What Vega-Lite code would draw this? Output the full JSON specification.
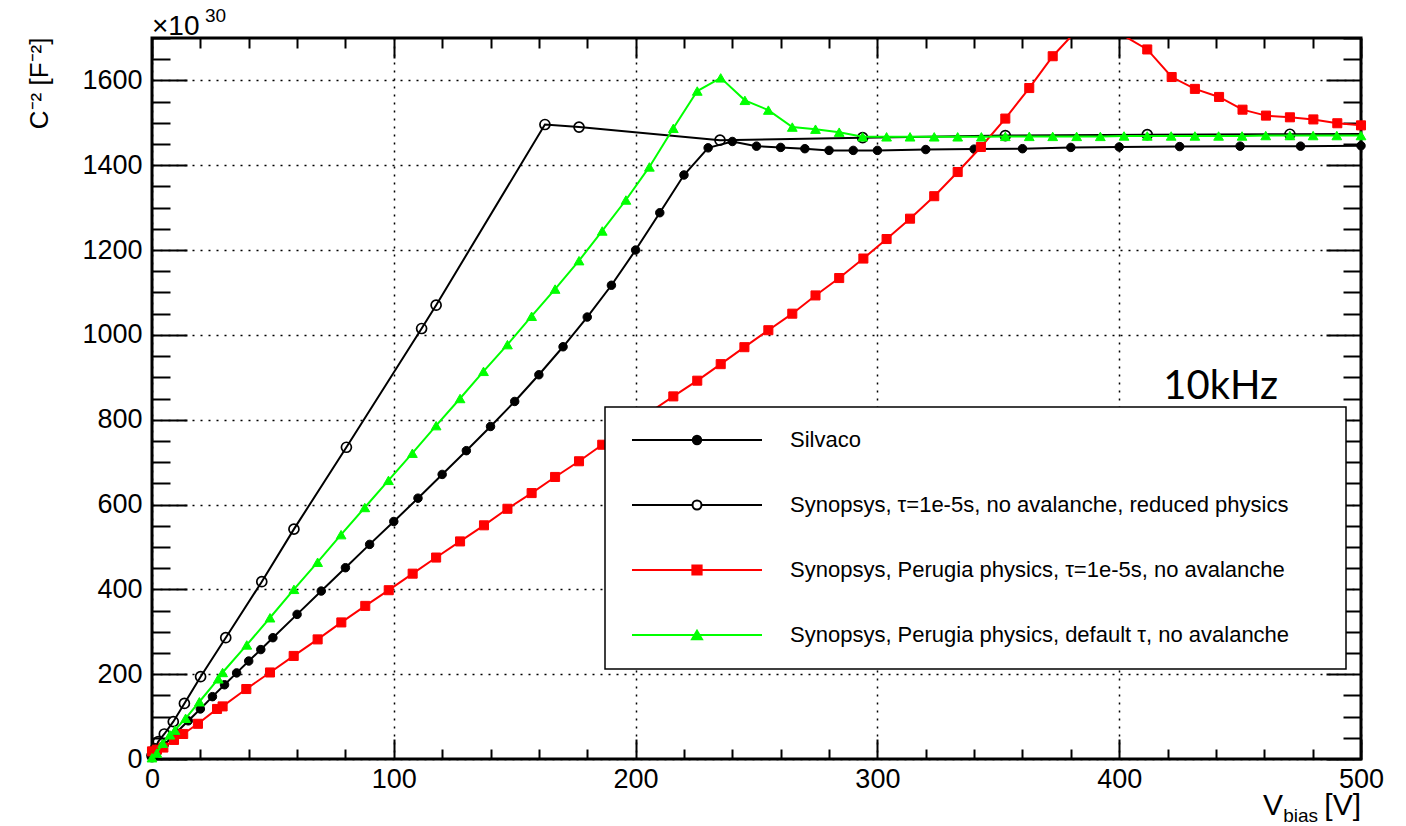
{
  "$schema": "https://vega.github.io/schema/vega-lite/v6.json",
  "width": 1209,
  "height": 721,
  "autosize": {"type": "none"},
  "padding": {"left": 152, "top": 38, "right": 45, "bottom": 67},
  "background": "white",
  "config": {
    "font": "Liberation Sans",
    "view": {"stroke": "black", "strokeWidth": 3},
    "legend": {"strokeWidth": 1.5}
  },
  "datasets": {
    "curves": [
      {"series": "Silvaco", "V": 0, "C": 3},
      {"series": "Silvaco", "V": 1, "C": 9},
      {"series": "Silvaco", "V": 2, "C": 15},
      {"series": "Silvaco", "V": 5, "C": 33},
      {"series": "Silvaco", "V": 10, "C": 62},
      {"series": "Silvaco", "V": 15, "C": 90},
      {"series": "Silvaco", "V": 20, "C": 118},
      {"series": "Silvaco", "V": 25, "C": 147},
      {"series": "Silvaco", "V": 30, "C": 175},
      {"series": "Silvaco", "V": 35, "C": 203},
      {"series": "Silvaco", "V": 40, "C": 231},
      {"series": "Silvaco", "V": 45, "C": 258},
      {"series": "Silvaco", "V": 50, "C": 286},
      {"series": "Silvaco", "V": 60, "C": 341},
      {"series": "Silvaco", "V": 70, "C": 396},
      {"series": "Silvaco", "V": 80, "C": 451},
      {"series": "Silvaco", "V": 90, "C": 506},
      {"series": "Silvaco", "V": 100, "C": 560},
      {"series": "Silvaco", "V": 110, "C": 615},
      {"series": "Silvaco", "V": 120, "C": 671},
      {"series": "Silvaco", "V": 130, "C": 727},
      {"series": "Silvaco", "V": 140, "C": 784},
      {"series": "Silvaco", "V": 150, "C": 843},
      {"series": "Silvaco", "V": 160, "C": 906},
      {"series": "Silvaco", "V": 170, "C": 972},
      {"series": "Silvaco", "V": 180, "C": 1042},
      {"series": "Silvaco", "V": 190, "C": 1117},
      {"series": "Silvaco", "V": 200, "C": 1200},
      {"series": "Silvaco", "V": 210, "C": 1288},
      {"series": "Silvaco", "V": 220, "C": 1377},
      {"series": "Silvaco", "V": 230, "C": 1441},
      {"series": "Silvaco", "V": 240, "C": 1456},
      {"series": "Silvaco", "V": 250, "C": 1445},
      {"series": "Silvaco", "V": 260, "C": 1442},
      {"series": "Silvaco", "V": 270, "C": 1439},
      {"series": "Silvaco", "V": 280, "C": 1435},
      {"series": "Silvaco", "V": 290, "C": 1435},
      {"series": "Silvaco", "V": 300, "C": 1435},
      {"series": "Silvaco", "V": 320, "C": 1437},
      {"series": "Silvaco", "V": 340, "C": 1438},
      {"series": "Silvaco", "V": 360, "C": 1439},
      {"series": "Silvaco", "V": 380, "C": 1442},
      {"series": "Silvaco", "V": 400, "C": 1443},
      {"series": "Silvaco", "V": 425, "C": 1444},
      {"series": "Silvaco", "V": 450, "C": 1445},
      {"series": "Silvaco", "V": 475, "C": 1445},
      {"series": "Silvaco", "V": 500, "C": 1446},

      {"series": "Synopsys, τ=1e-5s, no avalanche, reduced physics", "V": 0, "C": 8},
      {"series": "Synopsys, τ=1e-5s, no avalanche, reduced physics", "V": 1.3, "C": 24},
      {"series": "Synopsys, τ=1e-5s, no avalanche, reduced physics", "V": 2.6, "C": 41},
      {"series": "Synopsys, τ=1e-5s, no avalanche, reduced physics", "V": 5.1, "C": 59},
      {"series": "Synopsys, τ=1e-5s, no avalanche, reduced physics", "V": 8.8, "C": 88},
      {"series": "Synopsys, τ=1e-5s, no avalanche, reduced physics", "V": 13.4, "C": 131},
      {"series": "Synopsys, τ=1e-5s, no avalanche, reduced physics", "V": 20.1, "C": 194},
      {"series": "Synopsys, τ=1e-5s, no avalanche, reduced physics", "V": 30.5, "C": 286},
      {"series": "Synopsys, τ=1e-5s, no avalanche, reduced physics", "V": 45.4, "C": 418},
      {"series": "Synopsys, τ=1e-5s, no avalanche, reduced physics", "V": 58.7, "C": 542},
      {"series": "Synopsys, τ=1e-5s, no avalanche, reduced physics", "V": 80.4, "C": 735},
      {"series": "Synopsys, τ=1e-5s, no avalanche, reduced physics", "V": 111.5, "C": 1015},
      {"series": "Synopsys, τ=1e-5s, no avalanche, reduced physics", "V": 117.5, "C": 1070},
      {"series": "Synopsys, τ=1e-5s, no avalanche, reduced physics", "V": 162.5, "C": 1496},
      {"series": "Synopsys, τ=1e-5s, no avalanche, reduced physics", "V": 176.6, "C": 1490},
      {"series": "Synopsys, τ=1e-5s, no avalanche, reduced physics", "V": 234.9, "C": 1459},
      {"series": "Synopsys, τ=1e-5s, no avalanche, reduced physics", "V": 293.9, "C": 1465},
      {"series": "Synopsys, τ=1e-5s, no avalanche, reduced physics", "V": 352.9, "C": 1470},
      {"series": "Synopsys, τ=1e-5s, no avalanche, reduced physics", "V": 411.6, "C": 1472},
      {"series": "Synopsys, τ=1e-5s, no avalanche, reduced physics", "V": 470.6, "C": 1473},
      {"series": "Synopsys, τ=1e-5s, no avalanche, reduced physics", "V": 529.4, "C": 1474},

      {"series": "Synopsys, Perugia physics, τ=1e-5s, no avalanche", "V": 0, "C": 18},
      {"series": "Synopsys, Perugia physics, τ=1e-5s, no avalanche", "V": 2, "C": 22},
      {"series": "Synopsys, Perugia physics, τ=1e-5s, no avalanche", "V": 4.7, "C": 27},
      {"series": "Synopsys, Perugia physics, τ=1e-5s, no avalanche", "V": 9.1, "C": 45},
      {"series": "Synopsys, Perugia physics, τ=1e-5s, no avalanche", "V": 12.9, "C": 59},
      {"series": "Synopsys, Perugia physics, τ=1e-5s, no avalanche", "V": 19, "C": 83},
      {"series": "Synopsys, Perugia physics, τ=1e-5s, no avalanche", "V": 26.9, "C": 118},
      {"series": "Synopsys, Perugia physics, τ=1e-5s, no avalanche", "V": 29.2, "C": 124},
      {"series": "Synopsys, Perugia physics, τ=1e-5s, no avalanche", "V": 39, "C": 165},
      {"series": "Synopsys, Perugia physics, τ=1e-5s, no avalanche", "V": 48.8, "C": 204},
      {"series": "Synopsys, Perugia physics, τ=1e-5s, no avalanche", "V": 58.6, "C": 243},
      {"series": "Synopsys, Perugia physics, τ=1e-5s, no avalanche", "V": 68.5, "C": 282},
      {"series": "Synopsys, Perugia physics, τ=1e-5s, no avalanche", "V": 78.3, "C": 322},
      {"series": "Synopsys, Perugia physics, τ=1e-5s, no avalanche", "V": 88.2, "C": 361},
      {"series": "Synopsys, Perugia physics, τ=1e-5s, no avalanche", "V": 97.9, "C": 398},
      {"series": "Synopsys, Perugia physics, τ=1e-5s, no avalanche", "V": 107.8, "C": 437},
      {"series": "Synopsys, Perugia physics, τ=1e-5s, no avalanche", "V": 117.5, "C": 475},
      {"series": "Synopsys, Perugia physics, τ=1e-5s, no avalanche", "V": 127.4, "C": 513},
      {"series": "Synopsys, Perugia physics, τ=1e-5s, no avalanche", "V": 137.3, "C": 551},
      {"series": "Synopsys, Perugia physics, τ=1e-5s, no avalanche", "V": 147, "C": 590},
      {"series": "Synopsys, Perugia physics, τ=1e-5s, no avalanche", "V": 157, "C": 627},
      {"series": "Synopsys, Perugia physics, τ=1e-5s, no avalanche", "V": 166.7, "C": 665},
      {"series": "Synopsys, Perugia physics, τ=1e-5s, no avalanche", "V": 176.6, "C": 702},
      {"series": "Synopsys, Perugia physics, τ=1e-5s, no avalanche", "V": 186.2, "C": 741},
      {"series": "Synopsys, Perugia physics, τ=1e-5s, no avalanche", "V": 196, "C": 779},
      {"series": "Synopsys, Perugia physics, τ=1e-5s, no avalanche", "V": 205.7, "C": 817},
      {"series": "Synopsys, Perugia physics, τ=1e-5s, no avalanche", "V": 215.6, "C": 855},
      {"series": "Synopsys, Perugia physics, τ=1e-5s, no avalanche", "V": 225.5, "C": 892},
      {"series": "Synopsys, Perugia physics, τ=1e-5s, no avalanche", "V": 235.2, "C": 931},
      {"series": "Synopsys, Perugia physics, τ=1e-5s, no avalanche", "V": 245, "C": 971},
      {"series": "Synopsys, Perugia physics, τ=1e-5s, no avalanche", "V": 254.9, "C": 1011},
      {"series": "Synopsys, Perugia physics, τ=1e-5s, no avalanche", "V": 264.8, "C": 1050},
      {"series": "Synopsys, Perugia physics, τ=1e-5s, no avalanche", "V": 274.4, "C": 1093},
      {"series": "Synopsys, Perugia physics, τ=1e-5s, no avalanche", "V": 284.2, "C": 1134},
      {"series": "Synopsys, Perugia physics, τ=1e-5s, no avalanche", "V": 294.2, "C": 1180},
      {"series": "Synopsys, Perugia physics, τ=1e-5s, no avalanche", "V": 303.8, "C": 1226},
      {"series": "Synopsys, Perugia physics, τ=1e-5s, no avalanche", "V": 313.5, "C": 1274},
      {"series": "Synopsys, Perugia physics, τ=1e-5s, no avalanche", "V": 323.5, "C": 1327},
      {"series": "Synopsys, Perugia physics, τ=1e-5s, no avalanche", "V": 333.2, "C": 1384},
      {"series": "Synopsys, Perugia physics, τ=1e-5s, no avalanche", "V": 342.8, "C": 1443},
      {"series": "Synopsys, Perugia physics, τ=1e-5s, no avalanche", "V": 352.9, "C": 1510},
      {"series": "Synopsys, Perugia physics, τ=1e-5s, no avalanche", "V": 362.8, "C": 1582},
      {"series": "Synopsys, Perugia physics, τ=1e-5s, no avalanche", "V": 372.5, "C": 1657},
      {"series": "Synopsys, Perugia physics, τ=1e-5s, no avalanche", "V": 382.4, "C": 1718},
      {"series": "Synopsys, Perugia physics, τ=1e-5s, no avalanche", "V": 392.2, "C": 1730},
      {"series": "Synopsys, Perugia physics, τ=1e-5s, no avalanche", "V": 402, "C": 1705},
      {"series": "Synopsys, Perugia physics, τ=1e-5s, no avalanche", "V": 411.6, "C": 1673},
      {"series": "Synopsys, Perugia physics, τ=1e-5s, no avalanche", "V": 421.7, "C": 1608},
      {"series": "Synopsys, Perugia physics, τ=1e-5s, no avalanche", "V": 431.3, "C": 1580},
      {"series": "Synopsys, Perugia physics, τ=1e-5s, no avalanche", "V": 441.3, "C": 1561},
      {"series": "Synopsys, Perugia physics, τ=1e-5s, no avalanche", "V": 451, "C": 1531},
      {"series": "Synopsys, Perugia physics, τ=1e-5s, no avalanche", "V": 460.7, "C": 1517},
      {"series": "Synopsys, Perugia physics, τ=1e-5s, no avalanche", "V": 470.6, "C": 1513},
      {"series": "Synopsys, Perugia physics, τ=1e-5s, no avalanche", "V": 480.3, "C": 1508},
      {"series": "Synopsys, Perugia physics, τ=1e-5s, no avalanche", "V": 490.2, "C": 1499},
      {"series": "Synopsys, Perugia physics, τ=1e-5s, no avalanche", "V": 500, "C": 1494},

      {"series": "Synopsys, Perugia physics, default τ, no avalanche", "V": 0, "C": 3},
      {"series": "Synopsys, Perugia physics, default τ, no avalanche", "V": 2, "C": 14},
      {"series": "Synopsys, Perugia physics, default τ, no avalanche", "V": 4.4, "C": 37},
      {"series": "Synopsys, Perugia physics, default τ, no avalanche", "V": 7.4, "C": 57},
      {"series": "Synopsys, Perugia physics, default τ, no avalanche", "V": 9.5, "C": 68},
      {"series": "Synopsys, Perugia physics, default τ, no avalanche", "V": 13.9, "C": 96},
      {"series": "Synopsys, Perugia physics, default τ, no avalanche", "V": 19.6, "C": 135},
      {"series": "Synopsys, Perugia physics, default τ, no avalanche", "V": 27.4, "C": 189},
      {"series": "Synopsys, Perugia physics, default τ, no avalanche", "V": 29.2, "C": 204},
      {"series": "Synopsys, Perugia physics, default τ, no avalanche", "V": 39.2, "C": 269},
      {"series": "Synopsys, Perugia physics, default τ, no avalanche", "V": 48.8, "C": 333},
      {"series": "Synopsys, Perugia physics, default τ, no avalanche", "V": 58.7, "C": 400},
      {"series": "Synopsys, Perugia physics, default τ, no avalanche", "V": 68.5, "C": 464},
      {"series": "Synopsys, Perugia physics, default τ, no avalanche", "V": 78.2, "C": 529},
      {"series": "Synopsys, Perugia physics, default τ, no avalanche", "V": 88, "C": 593},
      {"series": "Synopsys, Perugia physics, default τ, no avalanche", "V": 97.8, "C": 657},
      {"series": "Synopsys, Perugia physics, default τ, no avalanche", "V": 107.7, "C": 721},
      {"series": "Synopsys, Perugia physics, default τ, no avalanche", "V": 117.5, "C": 786},
      {"series": "Synopsys, Perugia physics, default τ, no avalanche", "V": 127.4, "C": 850},
      {"series": "Synopsys, Perugia physics, default τ, no avalanche", "V": 137.1, "C": 914},
      {"series": "Synopsys, Perugia physics, default τ, no avalanche", "V": 147, "C": 977},
      {"series": "Synopsys, Perugia physics, default τ, no avalanche", "V": 157, "C": 1044},
      {"series": "Synopsys, Perugia physics, default τ, no avalanche", "V": 166.7, "C": 1108},
      {"series": "Synopsys, Perugia physics, default τ, no avalanche", "V": 176.6, "C": 1175},
      {"series": "Synopsys, Perugia physics, default τ, no avalanche", "V": 186.2, "C": 1245},
      {"series": "Synopsys, Perugia physics, default τ, no avalanche", "V": 196, "C": 1318},
      {"series": "Synopsys, Perugia physics, default τ, no avalanche", "V": 205.7, "C": 1396},
      {"series": "Synopsys, Perugia physics, default τ, no avalanche", "V": 215.6, "C": 1487},
      {"series": "Synopsys, Perugia physics, default τ, no avalanche", "V": 225.5, "C": 1575},
      {"series": "Synopsys, Perugia physics, default τ, no avalanche", "V": 235.2, "C": 1606},
      {"series": "Synopsys, Perugia physics, default τ, no avalanche", "V": 245.2, "C": 1553},
      {"series": "Synopsys, Perugia physics, default τ, no avalanche", "V": 254.9, "C": 1530},
      {"series": "Synopsys, Perugia physics, default τ, no avalanche", "V": 264.8, "C": 1490},
      {"series": "Synopsys, Perugia physics, default τ, no avalanche", "V": 274.4, "C": 1485},
      {"series": "Synopsys, Perugia physics, default τ, no avalanche", "V": 284.2, "C": 1478},
      {"series": "Synopsys, Perugia physics, default τ, no avalanche", "V": 293.9, "C": 1467},
      {"series": "Synopsys, Perugia physics, default τ, no avalanche", "V": 303.8, "C": 1467},
      {"series": "Synopsys, Perugia physics, default τ, no avalanche", "V": 313.5, "C": 1467},
      {"series": "Synopsys, Perugia physics, default τ, no avalanche", "V": 323.5, "C": 1467},
      {"series": "Synopsys, Perugia physics, default τ, no avalanche", "V": 333.2, "C": 1467},
      {"series": "Synopsys, Perugia physics, default τ, no avalanche", "V": 343, "C": 1467},
      {"series": "Synopsys, Perugia physics, default τ, no avalanche", "V": 352.9, "C": 1468},
      {"series": "Synopsys, Perugia physics, default τ, no avalanche", "V": 362.8, "C": 1468},
      {"series": "Synopsys, Perugia physics, default τ, no avalanche", "V": 372.5, "C": 1468},
      {"series": "Synopsys, Perugia physics, default τ, no avalanche", "V": 382.4, "C": 1468},
      {"series": "Synopsys, Perugia physics, default τ, no avalanche", "V": 392.2, "C": 1468},
      {"series": "Synopsys, Perugia physics, default τ, no avalanche", "V": 402, "C": 1469},
      {"series": "Synopsys, Perugia physics, default τ, no avalanche", "V": 411.6, "C": 1469},
      {"series": "Synopsys, Perugia physics, default τ, no avalanche", "V": 421.5, "C": 1469},
      {"series": "Synopsys, Perugia physics, default τ, no avalanche", "V": 431.3, "C": 1469},
      {"series": "Synopsys, Perugia physics, default τ, no avalanche", "V": 441.1, "C": 1469},
      {"series": "Synopsys, Perugia physics, default τ, no avalanche", "V": 450.8, "C": 1469},
      {"series": "Synopsys, Perugia physics, default τ, no avalanche", "V": 460.6, "C": 1470},
      {"series": "Synopsys, Perugia physics, default τ, no avalanche", "V": 470.6, "C": 1470},
      {"series": "Synopsys, Perugia physics, default τ, no avalanche", "V": 480.2, "C": 1470},
      {"series": "Synopsys, Perugia physics, default τ, no avalanche", "V": 490, "C": 1470},
      {"series": "Synopsys, Perugia physics, default τ, no avalanche", "V": 500, "C": 1470}
    ]
  },
  "data": {"name": "curves"},
  "resolve": {"axis": {"x": "independent", "y": "independent"}},
  "layer": [
    {
      "transform": [{"filter": "datum.series === 'Silvaco'"}],
      "mark": {"type": "line", "strokeWidth": 2, "clip": true, "color": "black"},
      "encoding": {
        "x": {"field": "V", "type": "quantitative", "scale": {"domain": [0, 500], "nice": false, "zero": false},
          "axis": {"orient": "bottom", "values": [0, 100, 200, 300, 400, 500], "ticks": false, "tickSize": 0, "domain": false,
            "labelFontSize": 27, "labelPadding": 7, "labelColor": "black", "labelFlush": false, "labelOverlap": false, "format": "d",
            "grid": true, "gridColor": "black", "gridDash": [2, 6], "gridWidth": 1.5, "gridOpacity": 1, "title": null}},
        "y": {"field": "C", "type": "quantitative", "scale": {"domain": [0, 1700], "nice": false, "zero": false},
          "axis": {"orient": "left", "values": [0, 200, 400, 600, 800, 1000, 1200, 1400, 1600], "ticks": false, "tickSize": 0, "domain": false,
            "labelFontSize": 27, "labelPadding": 10, "labelColor": "black", "labelFlush": false, "labelOverlap": false, "format": "d",
            "grid": true, "gridColor": "black", "gridDash": [2, 6], "gridWidth": 1.5, "gridOpacity": 1,
            "title": "C⁻² [F⁻²]", "titleFontSize": 26, "titleFontWeight": "normal", "titleColor": "black",
            "titleAngle": -90, "titleAlign": "right", "titleBaseline": "alphabetic", "titleX": -105, "titleY": -1}}
      }
    },
    {
      "transform": [{"filter": "datum.series === 'Silvaco' && datum.C <= 1700 && datum.V <= 500"}],
      "mark": {"type": "point", "shape": "circle", "filled": true, "fill": "black", "stroke": "black", "size": 72, "strokeWidth": 1, "opacity": 1},
      "encoding": {
        "x": {"field": "V", "type": "quantitative", "axis": null},
        "y": {"field": "C", "type": "quantitative", "axis": null}
      }
    },
    {
      "transform": [{"filter": "datum.series === 'Synopsys, τ=1e-5s, no avalanche, reduced physics'"}],
      "mark": {"type": "line", "strokeWidth": 2, "clip": true, "color": "black"},
      "encoding": {
        "x": {"field": "V", "type": "quantitative", "axis": null},
        "y": {"field": "C", "type": "quantitative", "axis": null}
      }
    },
    {
      "transform": [{"filter": "datum.series === 'Synopsys, τ=1e-5s, no avalanche, reduced physics' && datum.C <= 1700 && datum.V <= 500"}],
      "mark": {"type": "point", "shape": "circle", "filled": false, "stroke": "black", "size": 100, "strokeWidth": 1.7, "opacity": 1},
      "encoding": {
        "x": {"field": "V", "type": "quantitative", "axis": null},
        "y": {"field": "C", "type": "quantitative", "axis": null}
      }
    },
    {
      "transform": [{"filter": "datum.series === 'Synopsys, Perugia physics, τ=1e-5s, no avalanche'"}],
      "mark": {"type": "line", "strokeWidth": 2, "clip": true, "color": "#ff0000"},
      "encoding": {
        "x": {"field": "V", "type": "quantitative", "axis": null},
        "y": {"field": "C", "type": "quantitative", "axis": null}
      }
    },
    {
      "transform": [{"filter": "datum.series === 'Synopsys, Perugia physics, τ=1e-5s, no avalanche' && datum.C <= 1700 && datum.V <= 500"}],
      "mark": {"type": "point", "shape": "square", "filled": true, "fill": "#ff0000", "stroke": "#ff0000", "size": 82, "strokeWidth": 1, "opacity": 1},
      "encoding": {
        "x": {"field": "V", "type": "quantitative", "axis": null},
        "y": {"field": "C", "type": "quantitative", "axis": null}
      }
    },
    {
      "transform": [{"filter": "datum.series === 'Synopsys, Perugia physics, default τ, no avalanche'"}],
      "mark": {"type": "line", "strokeWidth": 2, "clip": true, "color": "#00ff00"},
      "encoding": {
        "x": {"field": "V", "type": "quantitative", "axis": null},
        "y": {"field": "C", "type": "quantitative", "axis": null}
      }
    },
    {
      "transform": [{"filter": "datum.series === 'Synopsys, Perugia physics, default τ, no avalanche' && datum.C <= 1700 && datum.V <= 500"}],
      "mark": {"type": "point", "shape": "triangle-up", "filled": true, "fill": "#00ff00", "stroke": "#00ff00", "size": 95, "strokeWidth": 1, "opacity": 1},
      "encoding": {
        "x": {"field": "V", "type": "quantitative", "axis": null},
        "y": {"field": "C", "type": "quantitative", "axis": null}
      }
    },
    {
      "transform": [{"filter": "datum.V < -1"}],
      "mark": {"type": "point", "filled": true, "strokeWidth": 2, "opacity": 1},
      "encoding": {
        "x": {"field": "V", "type": "quantitative", "axis": null},
        "y": {"field": "C", "type": "quantitative", "axis": null},
        "shape": {"field": "series", "type": "nominal",
          "scale": {"domain": ["Silvaco", "Synopsys, τ=1e-5s, no avalanche, reduced physics", "Synopsys, Perugia physics, τ=1e-5s, no avalanche", "Synopsys, Perugia physics, default τ, no avalanche"],
            "range": [
              "M-1,0L-0.065,0M0.065,0L1,0M0.065,0A0.065,0.065,0,1,1,-0.065,0A0.065,0.065,0,1,1,0.065,0Z",
              "M-1,0L-0.069,0M0.069,0L1,0M0.069,0A0.069,0.069,0,1,1,-0.069,0A0.069,0.069,0,1,1,0.069,0Z",
              "M-1,0L-0.071,0M0.071,0L1,0M-0.071,-0.071L0.071,-0.071L0.071,0.071L-0.071,0.071Z",
              "M-1,0L-0.04,0M0.04,0L1,0M0,-0.067L0.077,0.067L-0.077,0.067Z"
            ]},
          "legend": {"title": "MM", "titleOrient": "right", "titleFontSize": 10, "titlePadding": 17, "titleOpacity": 0, "titleColor": "white",
            "orient": "none", "legendX": 453, "legendY": 369, "direction": "vertical",
            "symbolSize": 16900, "symbolStrokeWidth": 2, "symbolOffset": 3, "clipHeight": 20,
            "labelOffset": 27, "labelFontSize": 22, "labelLimit": 900, "labelColor": "black", "labelFont": "Liberation Sans",
            "rowPadding": 43, "padding": 23, "strokeColor": "black", "fillColor": "white"}},
        "fill": {"field": "series", "type": "nominal",
          "scale": {"domain": ["Silvaco", "Synopsys, τ=1e-5s, no avalanche, reduced physics", "Synopsys, Perugia physics, τ=1e-5s, no avalanche", "Synopsys, Perugia physics, default τ, no avalanche"],
            "range": ["black", "white", "#ff0000", "#00ff00"]}},
        "stroke": {"field": "series", "type": "nominal",
          "scale": {"domain": ["Silvaco", "Synopsys, τ=1e-5s, no avalanche, reduced physics", "Synopsys, Perugia physics, τ=1e-5s, no avalanche", "Synopsys, Perugia physics, default τ, no avalanche"],
            "range": ["black", "black", "#ff0000", "#00ff00"]}}
      }
    },
    {
      "transform": [{"filter": "datum.V < -1"}],
      "mark": {"type": "point", "opacity": 0},
      "encoding": {
        "x": {"field": "V", "type": "quantitative",
          "axis": {"orient": "bottom", "values": [0, 100, 200, 300, 400, 500], "labels": false, "domain": false, "grid": false, "tickSize": -20, "tickWidth": 2, "tickColor": "black", "tickOpacity": 1, "title": null}},
        "y": {"field": "C", "type": "quantitative",
          "axis": {"orient": "left", "values": [0, 200, 400, 600, 800, 1000, 1200, 1400, 1600], "labels": false, "domain": false, "grid": false, "tickSize": -35, "tickWidth": 2, "tickColor": "black", "tickOpacity": 1, "title": null}}
      }
    },
    {
      "transform": [{"filter": "datum.V < -1"}],
      "mark": {"type": "point", "opacity": 0},
      "encoding": {
        "x": {"field": "V", "type": "quantitative",
          "axis": {"orient": "bottom", "values": [20, 40, 60, 80, 120, 140, 160, 180, 220, 240, 260, 280, 320, 340, 360, 380, 420, 440, 460, 480], "labels": false, "domain": false, "grid": false, "tickSize": -10, "tickWidth": 2, "tickColor": "black", "tickOpacity": 1, "title": null}},
        "y": {"field": "C", "type": "quantitative",
          "axis": {"orient": "left", "values": [50, 100, 150, 250, 300, 350, 450, 500, 550, 650, 700, 750, 850, 900, 950, 1050, 1100, 1150, 1250, 1300, 1350, 1450, 1500, 1550, 1650, 1700], "labels": false, "domain": false, "grid": false, "tickSize": -18, "tickWidth": 2, "tickColor": "black", "tickOpacity": 1, "title": null}}
      }
    },
    {
      "transform": [{"filter": "datum.V < -1"}],
      "mark": {"type": "point", "opacity": 0},
      "encoding": {
        "x": {"field": "V", "type": "quantitative",
          "axis": {"orient": "top", "values": [0, 100, 200, 300, 400, 500], "labels": false, "domain": false, "grid": false, "tickSize": -20, "tickWidth": 2, "tickColor": "black", "tickOpacity": 1, "title": null}},
        "y": {"field": "C", "type": "quantitative",
          "axis": {"orient": "right", "values": [0, 200, 400, 600, 800, 1000, 1200, 1400, 1600], "labels": false, "domain": false, "grid": false, "tickSize": -35, "tickWidth": 2, "tickColor": "black", "tickOpacity": 1, "title": null}}
      }
    },
    {
      "transform": [{"filter": "datum.V < -1"}],
      "mark": {"type": "point", "opacity": 0},
      "encoding": {
        "x": {"field": "V", "type": "quantitative",
          "axis": {"orient": "top", "values": [20, 40, 60, 80, 120, 140, 160, 180, 220, 240, 260, 280, 320, 340, 360, 380, 420, 440, 460, 480], "labels": false, "domain": false, "grid": false, "tickSize": -10, "tickWidth": 2, "tickColor": "black", "tickOpacity": 1, "title": null}},
        "y": {"field": "C", "type": "quantitative",
          "axis": {"orient": "right", "values": [50, 100, 150, 250, 300, 350, 450, 500, 550, 650, 700, 750, 850, 900, 950, 1050, 1100, 1150, 1250, 1300, 1350, 1450, 1500, 1550, 1650, 1700], "labels": false, "domain": false, "grid": false, "tickSize": -18, "tickWidth": 2, "tickColor": "black", "tickOpacity": 1, "title": null}}
      }
    },
    {
      "data": {"values": [{"t": "×10"}]},
      "mark": {"type": "text", "align": "left", "baseline": "alphabetic", "fontSize": 28, "dx": 0, "dy": -3, "color": "black"},
      "encoding": {"x": {"datum": 0, "type": "quantitative", "axis": null}, "y": {"datum": 1700, "type": "quantitative", "axis": null}, "text": {"field": "t"}}
    },
    {
      "data": {"values": [{"t": "30"}]},
      "mark": {"type": "text", "align": "left", "baseline": "alphabetic", "fontSize": 19, "dx": 53, "dy": -16, "color": "black"},
      "encoding": {"x": {"datum": 0, "type": "quantitative", "axis": null}, "y": {"datum": 1700, "type": "quantitative", "axis": null}, "text": {"field": "t"}}
    },
    {
      "data": {"values": [{"t": "V"}]},
      "mark": {"type": "text", "align": "right", "baseline": "alphabetic", "fontSize": 30, "dx": -78, "dy": 56, "color": "black"},
      "encoding": {"x": {"datum": 500, "type": "quantitative", "axis": null}, "y": {"datum": 0, "type": "quantitative", "axis": null}, "text": {"field": "t"}}
    },
    {
      "data": {"values": [{"t": "bias"}]},
      "mark": {"type": "text", "align": "right", "baseline": "alphabetic", "fontSize": 19, "dx": -43, "dy": 63, "color": "black"},
      "encoding": {"x": {"datum": 500, "type": "quantitative", "axis": null}, "y": {"datum": 0, "type": "quantitative", "axis": null}, "text": {"field": "t"}}
    },
    {
      "data": {"values": [{"t": "[V]"}]},
      "mark": {"type": "text", "align": "right", "baseline": "alphabetic", "fontSize": 30, "dx": 0, "dy": 56, "color": "black"},
      "encoding": {"x": {"datum": 500, "type": "quantitative", "axis": null}, "y": {"datum": 0, "type": "quantitative", "axis": null}, "text": {"field": "t"}}
    },
    {
      "data": {"values": [{"t": "10kHz"}]},
      "mark": {"type": "text", "align": "center", "baseline": "alphabetic", "fontSize": 40, "font": "Lato", "color": "black"},
      "encoding": {"x": {"datum": 442, "type": "quantitative", "axis": null}, "y": {"datum": 850, "type": "quantitative", "axis": null}, "text": {"field": "t"}}
    }
  ]
}
